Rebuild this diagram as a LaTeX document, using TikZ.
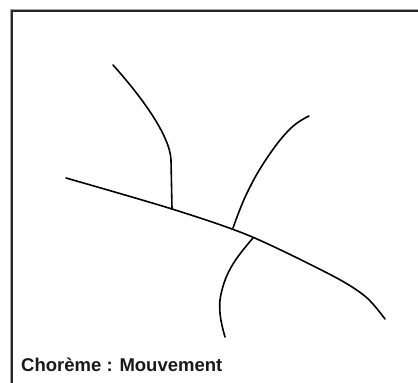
\documentclass[tikz,border=0pt]{standalone}
\usepackage{fontspec}
\setmainfont{Liberation Sans}
\begin{document}
\begin{tikzpicture}[x=1pt,y=-1pt,
  curve/.style={draw=black,line width=1.6pt,line cap=round,line join=round},
  framedark/.style={draw=black!85,line width=1.5pt},
  frameshadow/.style={draw=black!35,line width=1pt}]
\useasboundingbox (0,0) rectangle (418,383);
\fill[white] (0,0) rectangle (418,383);
% frame
\draw[frameshadow] (10.2,383) -- (10.2,9.2) -- (418,9.2);
\draw[framedark] (11.8,383) -- (11.8,10.8) -- (418,10.8);
% main line
\draw[curve] plot[smooth,tension=0.5] coordinates {(66,178) (172,209) (250,236) (333,276) (366,297) (385,319)};
% upper-left branch
\draw[curve] (113,65) .. controls (140,95) and (170,135) .. (171,160) -- (172,209);
% upper-right branch
\draw[curve] plot[smooth,tension=0.7] coordinates {(309,116) (290,129) (267,158) (247,193) (233,228)};
% lower branch
\draw[curve] plot[smooth,tension=0.7] coordinates {(253,238) (233,264) (222,290) (220,313) (225,337)};
% title
\node[anchor=base west,inner sep=0pt,font=\fontsize{18.5}{21}\selectfont\bfseries,text=black!90] (title) at (21,371.5) {Chorème : Mouvement};
\end{tikzpicture}
\end{document}
